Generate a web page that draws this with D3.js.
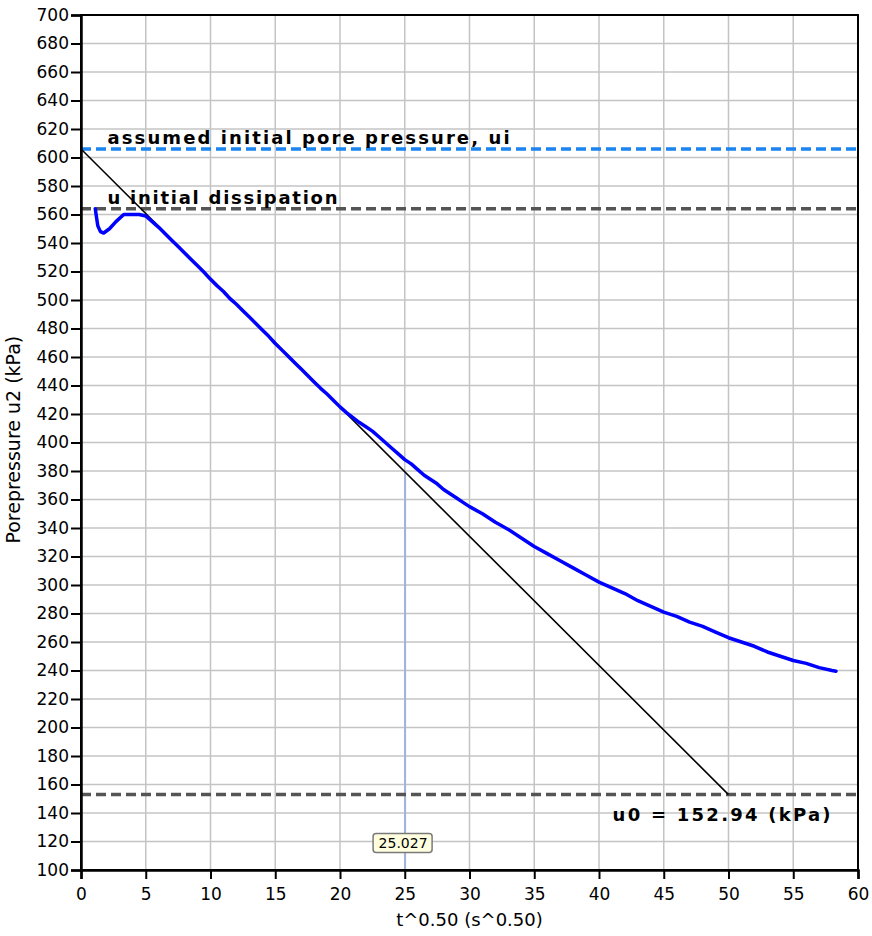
<!DOCTYPE html>
<html>
<head>
<meta charset="utf-8">
<script src="https://cdn.jsdelivr.net/npm/d3@7"></script>
<style>
  html, body { margin: 0; padding: 0; background: #fff; }
  svg { display: block; }
</style>
</head>
<body>
<div id="chart"></div>
<script>
// ---------- data ----------
const xTicks = [0, 5, 10, 15, 20, 25, 30, 35, 40, 45, 50, 55, 60];
const yTicks = d3.range(100, 701, 20);

// measured porepressure u2 (kPa) vs t^0.5 (s^0.5)
const sqrtT = [1.1, 1.3, 1.5, 1.75, 2.2, 2.7, 3.3, 4.5, 5.0, 5.5, 6.0, 6.5, 7.0, 7.5, 8.0, 8.5, 9.0, 9.5, 10.0,
  10.5, 11.0, 11.5, 12.0, 12.5, 13.0, 13.5, 14.0, 14.5, 15.0, 15.5, 16.0, 16.5, 17.0, 17.5, 18.0, 18.5, 19.0,
  19.5, 20.0, 20.5, 21.0, 21.5, 22.0, 22.5, 23.0, 23.5, 24.0, 24.5, 25.0, 25.5, 26.0, 26.5, 27.0, 27.5, 28.0,
  28.5, 29.0, 29.5, 30.0, 31, 32, 33, 34, 35, 36, 37, 38, 39, 40, 41, 42, 43, 44, 45, 46, 47, 48, 49, 50,
  51, 52, 53, 54, 55, 56, 57, 58, 58.3];
const porePressure = [564, 552, 548, 547, 550, 555, 560, 560, 559, 555, 551, 546.5, 542, 537.5, 533, 528.5, 524, 519.5, 514.5,
  510, 506, 501, 497, 492.5, 488, 483.5, 479, 474.5, 469.5, 465, 460.5, 456, 451.5, 447, 442.5, 438, 434,
  429.5, 425, 421, 417.5, 414, 411, 408, 404, 400, 396, 392, 388, 385, 381, 377, 374, 371, 367,
  364, 361, 358, 355, 350, 344, 339, 333, 327, 322, 317, 312, 307, 302, 298, 294, 289, 285, 281, 278, 274, 271, 267, 263,
  260, 257, 253, 250, 247, 245, 242, 240, 239.5];

const uInitialAssumed = 606;     // assumed initial pore pressure, ui
const uInitialDissipation = 564; // u initial dissipation
const u0 = 152.94;               // u0 (kPa)
const fitStart = [0, 606];       // fitted line start (t^0.5, u)
const fitEnd = [50, 152.94];     // fitted line end
const t50root = 25.027;

// ---------- layout ----------
const W = 872, H = 936;
const margin = { top: 15, right: 14, bottom: 66, left: 81 };
const iw = W - margin.left - margin.right;
const ih = H - margin.top - margin.bottom;

const svg = d3.select("#chart").append("svg").attr("width", W).attr("height", H);
const g = svg.append("g").attr("transform", `translate(${margin.left},${margin.top})`);

const x = d3.scaleLinear().domain([0, 60]).range([0, iw]);
const y = d3.scaleLinear().domain([100, 700]).range([ih, 0]);

const FONT = "'DejaVu Sans', Verdana, sans-serif";

// grid
g.append("g").selectAll("line").data(xTicks.slice(1, -1)).join("line")
  .attr("x1", d => x(d)).attr("x2", d => x(d)).attr("y1", 0).attr("y2", ih)
  .attr("stroke", "#c4c4c4").attr("stroke-width", 1.5);
g.append("g").selectAll("line").data(yTicks.slice(1, -1)).join("line")
  .attr("y1", d => y(d)).attr("y2", d => y(d)).attr("x1", 0).attr("x2", iw)
  .attr("stroke", "#c4c4c4").attr("stroke-width", 1.5);

// clip
svg.append("defs").append("clipPath").attr("id", "clip")
  .append("rect").attr("width", iw).attr("height", ih);
const plot = g.append("g").attr("clip-path", "url(#clip)");

// vertical marker
const fitU = d3.scaleLinear().domain([fitStart[0], fitEnd[0]]).range([fitStart[1], fitEnd[1]]);
plot.append("line")
  .attr("x1", x(t50root)).attr("x2", x(t50root))
  .attr("y1", y(100)).attr("y2", y(fitU(t50root)))
  .attr("stroke", "#9fb3da").attr("stroke-width", 2);

// dashed reference lines
function hline(v, color) {
  plot.append("line").attr("x1", 0).attr("x2", iw).attr("y1", y(v)).attr("y2", y(v))
    .attr("stroke", color).attr("stroke-width", 3.5).attr("stroke-dasharray", "10,5");
}
hline(uInitialAssumed, "#1a84f0");
hline(uInitialDissipation, "#555555");
hline(u0, "#555555");

// fitted line
plot.append("line")
  .attr("x1", x(fitStart[0])).attr("y1", y(fitStart[1]))
  .attr("x2", x(fitEnd[0])).attr("y2", y(fitEnd[1]))
  .attr("stroke", "#000").attr("stroke-width", 1.6);

// measured curve
const pts = sqrtT.map((t, i) => [t, porePressure[i]]);
plot.append("path").datum(pts)
  .attr("d", d3.line().x(d => x(d[0])).y(d => y(d[1])))
  .attr("fill", "none").attr("stroke", "#0000ff").attr("stroke-width", 3.5)
  .attr("stroke-linejoin", "round").attr("stroke-linecap", "round");

// labels
function label(text, xv, yv, len) {
  plot.append("text").attr("x", x(xv)).attr("y", y(yv))
    .attr("font-family", FONT)
    .attr("font-weight", "bold").attr("font-size", 18)
    .attr("textLength", len).attr("lengthAdjust", "spacing")
    .attr("fill", "#000").text(text);
}
label("assumed initial pore pressure, ui", 2.05, 609.5, 402);
label("u initial dissipation", 2.05, 567.5, 230);
label("u0 = 152.94 (kPa)", 41.05, 134.7, 218);

// frame
g.append("rect").attr("width", iw).attr("height", ih)
  .attr("fill", "none").attr("stroke", "#000").attr("stroke-width", 2);

// axes
const xAxis = g.append("g").attr("transform", `translate(0,${ih})`)
  .call(d3.axisBottom(x).tickValues(xTicks).tickSize(9).tickPadding(9).tickFormat(d3.format("d")));
const yAxis = g.append("g")
  .call(d3.axisLeft(y).tickValues(yTicks).tickSize(10).tickPadding(2).tickFormat(d3.format("d")));
[xAxis, yAxis].forEach(a => {
  a.select(".domain").attr("stroke", "#000").attr("stroke-width", 2.5);
  a.selectAll(".tick line").attr("stroke", "#000").attr("stroke-width", 2);
  a.selectAll(".tick text").attr("font-family", FONT).attr("font-size", 17).attr("fill", "#000");
});

// tooltip box
const tip = g.append("g").attr("transform", `translate(${x(t50root) - 2},${y(120) + 1.5})`);
tip.append("rect").attr("x", -30).attr("y", -9.5).attr("width", 59).attr("height", 19)
  .attr("rx", 3).attr("fill", "#ffffdf").attr("stroke", "#7a7a7a").attr("stroke-width", 1.5);
tip.append("text").attr("text-anchor", "middle").attr("dy", "0.36em").attr("x", 0)
  .attr("font-family", FONT).attr("font-size", 14).attr("fill", "#000").text(t50root.toFixed(3));

// axis titles
svg.append("text").attr("x", margin.left + x(30)).attr("y", 926)
  .attr("text-anchor", "middle").attr("font-family", FONT).attr("font-size", 18)
  .attr("fill", "#000").text("t^0.50 (s^0.50)");
svg.append("text").attr("transform", `translate(20,${margin.top + y(402)}) rotate(-90)`)
  .attr("text-anchor", "middle").attr("font-family", FONT).attr("font-size", 19)
  .attr("fill", "#000").text("Porepressure u2 (kPa)");
</script>
</body>
</html>
